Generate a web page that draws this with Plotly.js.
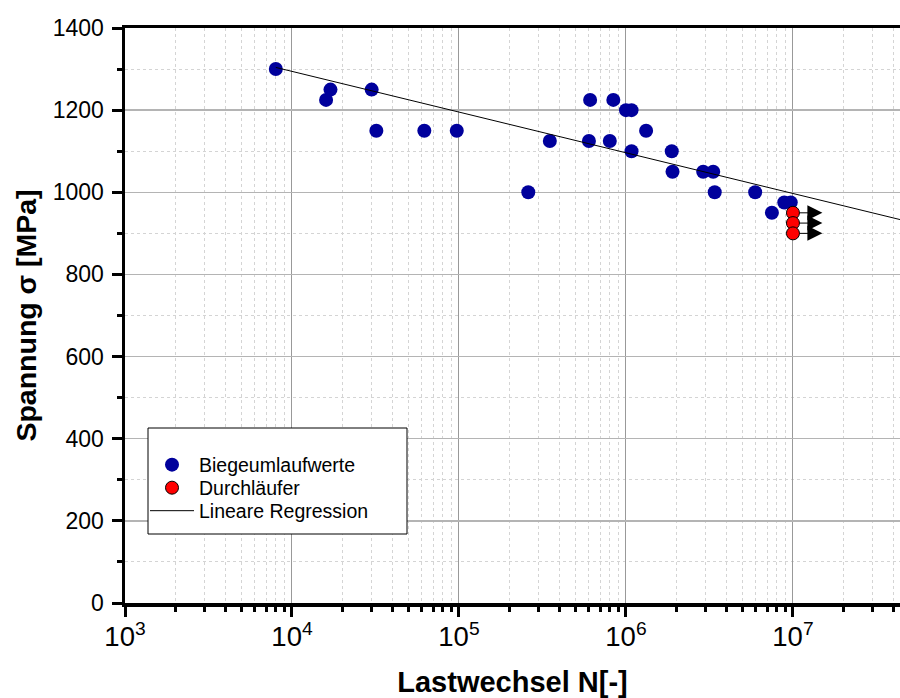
<!DOCTYPE html>
<html>
<head>
<meta charset="utf-8">
<script src="https://cdn.plot.ly/plotly-3.0.1.min.js"></script>
<style>html,body{margin:0;padding:0;background:#fff;}</style>
</head>
<body>
<div id="chart" style="width:900px;height:698px;"></div>
<script>
// Biegeumlaufwerte (rotating bending tests)
const bieN = [8000, 16000, 17000, 30000, 32000, 62000, 97000, 260000, 350000, 600000, 610000, 800000, 840000, 1000000, 1080000, 1080000, 1320000, 1880000, 1900000, 2900000, 3330000, 3400000, 5940000, 7480000, 8870000, 9700000];
const bieS = [1300, 1225, 1250, 1250, 1150, 1150, 1150, 1000, 1125, 1125, 1225, 1125, 1225, 1200, 1200, 1100, 1150, 1100, 1050, 1050, 1050, 1000, 1000, 950, 975, 975];
// Durchläufer (run-outs)
const runN = [1e7, 1e7, 1e7];
const runS = [950, 925, 900];
const runArrowEndN = [1.45e7, 1.45e7, 1.45e7];
const runArrowTipN = [1.5e7, 1.5e7, 1.5e7];
// Lineare Regression
const regN = [8000, 1e8];
const regS = [1304, 898];

const FONT = 'Liberation Sans, Arial, Helvetica, sans-serif';

// arrow shafts from run-outs
const shaftX = [], shaftY = [];
runN.forEach((n, i) => { shaftX.push(n, runArrowEndN[i], null); shaftY.push(runS[i], runS[i], null); });

const traces = [
  {x: shaftX, y: shaftY, mode: 'lines', line: {color: 'black', width: 1}, showlegend: false, hoverinfo: 'skip'},
  {x: runArrowTipN, y: runS, mode: 'markers', marker: {symbol: 'arrow-right', size: 15, color: 'black'}, showlegend: false, hoverinfo: 'skip'},
  {x: bieN, y: bieS, mode: 'markers', name: 'Biegeumlaufwerte', legend: 'legend', marker: {color: '#00009C', size: 14}},
  {x: runN, y: runS, mode: 'markers', name: 'Durchläufer', legend: 'legend2', marker: {color: '#FF0000', size: 13, line: {color: 'black', width: 1}}},
  {x: regN, y: regS, mode: 'lines', name: 'Lineare Regression', legend: 'legend3', line: {color: 'black', width: 1}}
];

const L = 125, R = 900, T = 28, B = 603;
const pw = R - L, ph = B - T;

function leg(yPix) {
  return {
    x: (145 - L) / pw, y: (B - yPix) / ph, xanchor: 'left', yanchor: 'middle',
    bgcolor: 'rgba(0,0,0,0)', borderwidth: 0,
    font: {size: 19.5, family: FONT}, itemwidth: 44
  };
}

const layout = {
  width: 900, height: 698,
  margin: {l: L, r: 900 - R, t: T, b: 698 - B},
  paper_bgcolor: 'white', plot_bgcolor: 'white',
  font: {family: FONT, color: 'black'},
  showlegend: true,
  xaxis: {
    type: 'log', range: [3, 7.641], dtick: 1, exponentformat: 'power',
    ticks: 'outside', ticklen: 10, tickwidth: 3, tickcolor: 'black',
    showline: true, linewidth: 3.5, linecolor: 'black', mirror: true,
    showgrid: true, gridcolor: '#999999', gridwidth: 1, zeroline: false,
    tickfont: {size: 22, family: FONT}, ticklabelstandoff: -2,
    minor: {dtick: 'D1', ticks: 'outside', ticklen: 5, tickwidth: 3, tickcolor: 'black', showgrid: true, gridcolor: '#d4d4d4', griddash: 'dot', gridwidth: 1},
    title: {text: '<b>Lastwechsel N[-]</b>', font: {size: 29, family: FONT}, standoff: 26}
  },
  yaxis: {
    range: [0, 1400], dtick: 200,
    ticks: 'outside', ticklen: 10, tickwidth: 3, tickcolor: 'black',
    showline: true, linewidth: 3.5, linecolor: 'black', mirror: false,
    showgrid: true, gridcolor: '#b4b4b4', gridwidth: 1.5, zeroline: false,
    tickfont: {size: 23, family: FONT}, ticklabelstandoff: 3,
    minor: {dtick: 100, ticks: 'outside', ticklen: 5, tickwidth: 3, tickcolor: 'black', showgrid: true, gridcolor: '#d4d4d4', griddash: 'dot', gridwidth: 1},
    title: {text: '<b>Spannung σ [MPa]</b>', font: {size: 28.5, family: FONT}, standoff: 9}
  },
  shapes: [{
    type: 'rect', xref: 'paper', yref: 'paper', layer: 'above',
    x0: (148 - L) / pw, x1: (407 - L) / pw, y0: (B - 534) / ph, y1: (B - 428) / ph,
    fillcolor: 'white', line: {color: 'black', width: 1}
  }],
  legend: leg(465),
  legend2: leg(488),
  legend3: leg(511)
};

Plotly.newPlot('chart', traces, layout, {displayModeBar: false, staticPlot: true});
</script>
</body>
</html>
